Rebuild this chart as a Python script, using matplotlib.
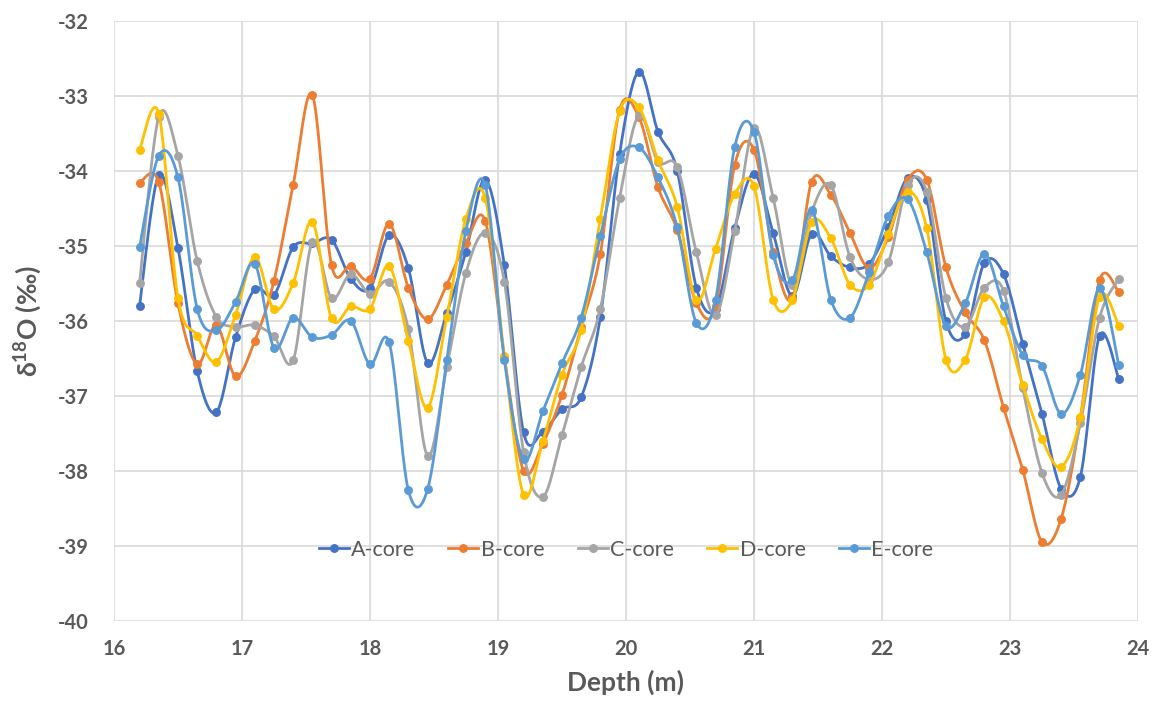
import numpy as np
import matplotlib
matplotlib.use("Agg")
import matplotlib.pyplot as plt
from matplotlib.lines import Line2D

plt.rcParams['font.family'] = ['Lato', 'DejaVu Sans']
plt.rcParams['mathtext.default'] = 'regular'
plt.rcParams['axes.unicode_minus'] = False

# depth (m) of each sample
depth = [16.20, 16.35, 16.50, 16.65, 16.80, 16.95, 17.10, 17.25, 17.40, 17.55,
         17.70, 17.85, 18.00, 18.15, 18.30, 18.45, 18.60, 18.75, 18.90, 19.05,
         19.20, 19.35, 19.50, 19.65, 19.80, 19.95, 20.10, 20.25, 20.40, 20.55,
         20.70, 20.85, 21.00, 21.15, 21.30, 21.45, 21.60, 21.75, 21.90, 22.05,
         22.20, 22.35, 22.50, 22.65, 22.80, 22.95, 23.10, 23.25, 23.40, 23.55,
         23.70, 23.85]

a_core = [-35.80, -34.06, -35.03, -36.67, -37.22, -36.22, -35.58, -35.66, -35.02, -34.97,
          -34.92, -35.44, -35.57, -34.86, -35.30, -36.56, -35.90, -35.08, -34.12, -35.26,
          -37.49, -37.48, -37.18, -37.02, -35.95, -33.78, -32.68, -33.48, -34.00, -35.56,
          -35.84, -34.76, -34.04, -34.83, -35.67, -34.84, -35.14, -35.29, -35.24, -34.75,
          -34.10, -34.39, -36.01, -36.18, -35.23, -35.38, -36.31, -37.24, -38.24, -38.08,
          -36.20, -36.78]
b_core = [-34.16, -34.15, -35.77, -36.58, -36.06, -36.74, -36.27, -35.47, -34.19, -32.99,
          -35.26, -35.27, -35.44, -34.71, -35.56, -35.98, -35.52, -34.96, -34.67, -36.48,
          -38.00, -37.64, -36.99, -36.08, -35.11, -33.19, -33.28, -34.22, -34.79, -35.77,
          -35.81, -33.92, -33.72, -35.08, -35.70, -34.15, -34.32, -34.83, -35.30, -34.88,
          -34.12, -34.12, -35.29, -35.89, -36.26, -37.16, -37.99, -38.95, -38.64, -37.30,
          -35.46, -35.62]
c_core = [-35.50, -33.28, -33.80, -35.20, -35.95, -36.08, -36.06, -36.21, -36.53, -34.95,
          -35.70, -35.38, -35.64, -35.48, -36.11, -37.80, -36.62, -35.36, -34.83, -35.48,
          -37.75, -38.35, -37.53, -36.62, -35.84, -34.37, -33.26, -33.88, -33.95, -35.09,
          -35.93, -34.80, -33.43, -34.36, -35.52, -34.55, -34.19, -35.15, -35.45, -35.22,
          -34.19, -34.28, -35.70, -36.08, -35.56, -35.60, -36.90, -38.03, -38.32, -37.37,
          -35.96, -35.44]
d_core = [-33.72, -33.24, -35.70, -36.20, -36.55, -35.92, -35.15, -35.85, -35.50, -34.68,
          -35.97, -35.81, -35.84, -35.27, -36.27, -37.16, -35.95, -34.64, -34.36, -36.47,
          -38.32, -37.61, -36.72, -36.12, -34.64, -33.21, -33.15, -33.86, -34.48, -35.73,
          -35.04, -34.31, -34.21, -35.72, -35.72, -34.69, -34.90, -35.52, -35.52, -34.84,
          -34.28, -34.77, -36.52, -36.52, -35.69, -36.01, -36.86, -37.58, -37.95, -37.29,
          -35.68, -36.07]
e_core = [-35.02, -33.80, -34.09, -35.84, -36.13, -35.75, -35.24, -36.36, -35.96, -36.22,
          -36.19, -36.00, -36.58, -36.29, -38.26, -38.25, -36.53, -34.80, -34.19, -36.52,
          -37.85, -37.21, -36.57, -35.96, -34.87, -33.85, -33.69, -34.09, -34.75, -36.03,
          -35.72, -33.68, -33.48, -35.12, -35.46, -34.52, -35.72, -35.96, -35.35, -34.60,
          -34.38, -35.09, -36.07, -35.77, -35.11, -35.81, -36.46, -36.60, -37.24, -36.72,
          -35.57, -36.59]

names = ['A-core', 'B-core', 'C-core', 'D-core', 'E-core']
colors = ['#4472C4', '#ED7D31', '#A5A5A5', '#FFC000', '#5B9BD5']


def smooth(x, y, n=20):
    # excel-like smoothed line (bezier through the points)
    x = np.asarray(x, float)
    y = np.asarray(y, float)
    px = np.concatenate([[x[0]], x, [x[-1]]])
    py = np.concatenate([[y[0]], y, [y[-1]]])
    xs, ys = [], []
    t = np.linspace(0, 1, n, endpoint=False)
    for i in range(len(x) - 1):
        p0x, p0y = px[i + 1], py[i + 1]
        p3x, p3y = px[i + 2], py[i + 2]
        c1x = p0x + (px[i + 2] - px[i]) / 6
        c1y = p0y + (py[i + 2] - py[i]) / 6
        c2x = p3x - (px[i + 3] - px[i + 1]) / 6
        c2y = p3y - (py[i + 3] - py[i + 1]) / 6
        b0 = (1 - t) ** 3
        b1 = 3 * (1 - t) ** 2 * t
        b2 = 3 * (1 - t) * t ** 2
        b3 = t ** 3
        xs.append(b0 * p0x + b1 * c1x + b2 * c2x + b3 * p3x)
        ys.append(b0 * p0y + b1 * c1y + b2 * c2y + b3 * p3y)
    xs.append([x[-1]])
    ys.append([y[-1]])
    return np.concatenate(xs), np.concatenate(ys)


fig = plt.figure(figsize=(11.58, 7.06), dpi=100)
ax = fig.add_axes([0.0984, 0.1208, 0.8843, 0.8499])

handles = []
for vals, name, c in zip([a_core, b_core, c_core, d_core, e_core], names, colors):
    sx, sy = smooth(depth, vals)
    ax.plot(sx, sy, color=c, lw=2.0, zorder=3)
    ax.plot(depth, vals, 'o', color=c, ms=5.4, zorder=3)
    handles.append(Line2D([], [], color=c, lw=2.0, marker='o', ms=5.4))

ax.set_xlim(16, 24)
ax.set_ylim(-40, -32)
ax.set_xticks(range(16, 25))
ax.set_yticks(range(-40, -31))
ax.grid(True, color='#d9d9d9', lw=1.2, zorder=0)
ax.set_axisbelow(True)
for s in ax.spines.values():
    s.set_visible(False)
ax.tick_params(length=0, labelsize=14.5, labelcolor='#595959')
ax.tick_params(axis='y', pad=18)
ax.tick_params(axis='x', pad=13)
for lab in ax.get_xticklabels() + ax.get_yticklabels():
    lab.set_fontweight('bold')

ax.set_xlabel('Depth (m)', fontsize=19, fontweight='bold', color='#595959', labelpad=8)
ax.set_ylabel('δ$^{18}$O (‰)', fontsize=19, fontweight='bold', color='#595959', labelpad=10)

ax.legend(handles, names, loc='center', bbox_to_anchor=(0.5, 0.118), ncol=5,
          frameon=False, fontsize=15.5, labelcolor='#595959', handlelength=1.4,
          handletextpad=0.1, columnspacing=1.55)

fig.savefig('out.png', dpi=100)
